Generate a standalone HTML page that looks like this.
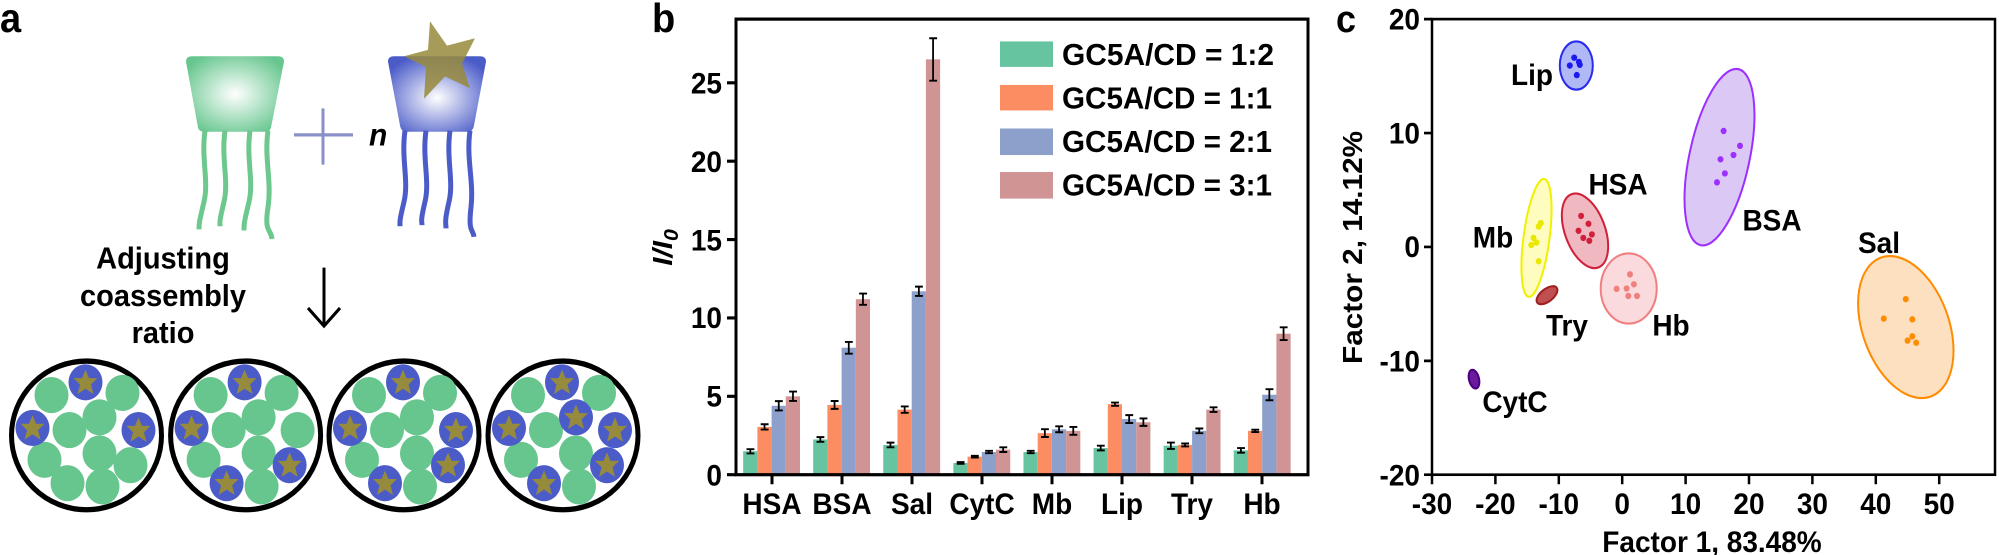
<!DOCTYPE html>
<html><head><meta charset="utf-8"><style>
html,body{margin:0;padding:0;background:#fff}
svg{display:block}
text{font-family:"Liberation Sans",Arial,sans-serif;font-weight:bold;fill:#000}
</style></head><body>
<svg width="1999" height="555" viewBox="0 0 1999 522.6" preserveAspectRatio="none" xmlns="http://www.w3.org/2000/svg">
<defs>
<radialGradient id="gg" cx="50%" cy="50%" r="60%"><stop offset="0" stop-color="#fff"/><stop offset="1" stop-color="#66c68e"/></radialGradient>
<radialGradient id="bg" cx="50%" cy="55%" r="60%"><stop offset="0" stop-color="#fff"/><stop offset="1" stop-color="#4b5cc8"/></radialGradient>
<g id="bs"><circle r="17" fill="#4b5cc8"/><polygon points="0,-12 3.5,-4 12,-4 5.5,2 8,11 0,6 -8,11 -5.5,2 -12,-4 -3.5,-4" fill="#968a3c"/></g>
<circle id="gc" r="17" fill="#66c68e"/>
</defs>

<!-- Panel a -->
<text x="0" y="30" font-size="38">a</text>
<path d="M186,58 Q186,53 192,53 L278,53 Q284,53 284,58 L271,120 Q270,124 265,124 L204,124 Q199,124 198,120 Z" fill="url(#gg)"/>
<g stroke="#6cc88d" stroke-width="5" fill="none">
<path d="M205,123 C201,150 209,170 204,190 S199,210 199,216"/>
<path d="M225,123 C221,150 229,170 224,190 S220,208 220,213"/>
<path d="M250,123 C246,150 254,170 249,190 S244,210 244,217"/>
<path d="M268,123 C264,150 272,170 268,195 S271,215 272,225"/>
</g>
<path d="M294,127 H353 M323,102 V155" stroke="#8a90c8" stroke-width="3"/>
<text x="369" y="137" font-size="30" font-style="italic">n</text>
<path d="M388,58 Q388,53 394,53 L480,53 Q486,53 486,58 L474,118 Q473,124 468,124 L406,124 Q401,124 400,118 Z" fill="url(#bg)"/>
<polygon points="430,20 447,43 475,36 462,60 470,83 445,72 424,93 426,63 404,53 428,47" fill="#968a3c" opacity="0.85"/>
<g stroke="#4b5cc8" stroke-width="5" fill="none">
<path d="M405,123 C401,150 409,170 404,190 S400,208 400,213"/>
<path d="M426,123 C422,150 430,170 425,190 S422,208 422,212"/>
<path d="M450,123 C446,150 454,170 449,190 S446,210 446,215"/>
<path d="M470,123 C466,150 474,170 471,195 S473,215 474,223"/>
</g>
<text x="163" y="253" font-size="29" text-anchor="middle">Adjusting</text>
<text x="163" y="288" font-size="29" text-anchor="middle">coassembly</text>
<text x="163" y="323" font-size="29" text-anchor="middle">ratio</text>
<path d="M324,252 V306 M308,290 L324,307 L340,290" stroke="#000" stroke-width="3" fill="none"/>

<g transform="translate(86.5,410)">
<ellipse rx="75" ry="70" fill="#fff" stroke="#000" stroke-width="5"/>
<use href="#gc" x="-35" y="-38"/><use href="#gc" x="36" y="-40"/><use href="#gc" x="-17" y="-5"/><use href="#gc" x="13" y="-17"/><use href="#gc" x="13" y="17"/><use href="#gc" x="-42" y="23"/><use href="#gc" x="44" y="28"/><use href="#gc" x="-19" y="45"/><use href="#gc" x="16" y="48"/>
<use href="#bs" x="-1" y="-50"/><use href="#bs" x="-54" y="-7"/><use href="#bs" x="52" y="-5"/>
</g>
<g transform="translate(245.6,410)">
<ellipse rx="75" ry="70" fill="#fff" stroke="#000" stroke-width="5"/>
<use href="#gc" x="-35" y="-38"/><use href="#gc" x="36" y="-40"/><use href="#gc" x="-17" y="-5"/><use href="#gc" x="13" y="-17"/><use href="#gc" x="13" y="17"/><use href="#gc" x="-42" y="23"/><use href="#gc" x="52" y="-5"/><use href="#gc" x="16" y="48"/>
<use href="#bs" x="-1" y="-50"/><use href="#bs" x="-54" y="-7"/><use href="#bs" x="44" y="28"/><use href="#bs" x="-19" y="45"/>
</g>
<g transform="translate(404,410)">
<ellipse rx="75" ry="70" fill="#fff" stroke="#000" stroke-width="5"/>
<use href="#gc" x="-35" y="-38"/><use href="#gc" x="36" y="-40"/><use href="#gc" x="-17" y="-5"/><use href="#gc" x="13" y="-17"/><use href="#gc" x="13" y="17"/><use href="#gc" x="-42" y="23"/><use href="#gc" x="16" y="48"/>
<use href="#bs" x="-1" y="-50"/><use href="#bs" x="-54" y="-7"/><use href="#bs" x="52" y="-5"/><use href="#bs" x="44" y="28"/><use href="#bs" x="-19" y="45"/>
</g>
<g transform="translate(563,410)">
<ellipse rx="75" ry="70" fill="#fff" stroke="#000" stroke-width="5"/>
<use href="#gc" x="-35" y="-38"/><use href="#gc" x="36" y="-40"/><use href="#gc" x="-17" y="-5"/><use href="#gc" x="13" y="17"/><use href="#gc" x="-42" y="23"/><use href="#gc" x="16" y="48"/>
<use href="#bs" x="-1" y="-50"/><use href="#bs" x="-54" y="-7"/><use href="#bs" x="13" y="-17"/><use href="#bs" x="52" y="-5"/><use href="#bs" x="44" y="28"/><use href="#bs" x="-19" y="45"/>
</g>

<!-- Panel b -->
<text x="652" y="30" font-size="38">b</text>
<g transform="matrix(0.9804,0,0,-1,15.12,447)">
<g fill="#66c5a0">
<rect x="742.6" y="0" width="14.5" height="22.1"/><rect x="814" y="0" width="14.5" height="33.2"/><rect x="885.5" y="0" width="14.5" height="28"/><rect x="957" y="0" width="14.5" height="11.1"/><rect x="1028.5" y="0" width="14.5" height="21.4"/><rect x="1100" y="0" width="14.5" height="25.1"/><rect x="1171.5" y="0" width="14.5" height="27.3"/><rect x="1243" y="0" width="14.5" height="22.9"/>
</g>
<g fill="#fc8d62">
<rect x="757.1" y="0" width="14.5" height="45"/><rect x="828.5" y="0" width="14.5" height="65.7"/><rect x="900" y="0" width="14.5" height="61.3"/><rect x="971.5" y="0" width="14.5" height="17"/><rect x="1043" y="0" width="14.5" height="39.1"/><rect x="1114.5" y="0" width="14.5" height="66.4"/><rect x="1186" y="0" width="14.5" height="28"/><rect x="1257.5" y="0" width="14.5" height="41.3"/>
</g>
<g fill="#8da0cb">
<rect x="771.6" y="0" width="14.5" height="64.9"/><rect x="843" y="0" width="14.5" height="119.6"/><rect x="914.5" y="0" width="14.5" height="172.7"/><rect x="986" y="0" width="14.5" height="21.4"/><rect x="1057.5" y="0" width="14.5" height="42.8"/><rect x="1129" y="0" width="14.5" height="52.4"/><rect x="1200.5" y="0" width="14.5" height="41.3"/><rect x="1272" y="0" width="14.5" height="75.3"/>
</g>
<g fill="#d09494">
<rect x="786.1" y="0" width="14.5" height="73.8"/><rect x="857.5" y="0" width="14.5" height="165.3"/><rect x="929" y="0" width="14.5" height="391.1"/><rect x="1000.5" y="0" width="14.5" height="23.6"/><rect x="1072" y="0" width="14.5" height="41.3"/><rect x="1143.5" y="0" width="14.5" height="49.4"/><rect x="1215" y="0" width="14.5" height="61.3"/><rect x="1286.5" y="0" width="14.5" height="132.8"/>
</g>
<path stroke="#000" stroke-width="1.8" fill="none" d="
M749.9,20 v4 M746,20 h8 M746,24 h8
M764.4,42.5 v5 M760.5,42.5 h8 M760.5,47.5 h8
M778.9,60.5 v8.8 M775,60.5 h8 M775,69.3 h8
M793.4,69.5 v8.8 M789.5,69.5 h8 M789.5,78.3 h8
M821.3,31 v4.4 M817.4,31 h8 M817.4,35.4 h8
M835.8,62 v7.4 M831.9,62 h8 M831.9,69.4 h8
M850.3,114 v11 M846.4,114 h8 M846.4,125 h8
M864.8,160 v10.6 M860.9,160 h8 M860.9,170.6 h8
M892.8,25.8 v4.4 M888.9,25.8 h8 M888.9,30.2 h8
M907.3,58.3 v6 M903.4,58.3 h8 M903.4,64.3 h8
M921.8,168.3 v8.8 M917.9,168.3 h8 M917.9,177.1 h8
M936.3,371 v40 M932.4,371 h8 M932.4,411 h8
M964.3,10.3 v1.6 M960.4,10.3 h8 M960.4,11.9 h8
M978.8,16.2 v1.6 M974.9,16.2 h8 M974.9,17.8 h8
M993.3,20.3 v2.2 M989.4,20.3 h8 M989.4,22.5 h8
M1007.8,21.4 v4.4 M1003.9,21.4 h8 M1003.9,25.8 h8
M1035.8,20.3 v2.2 M1031.9,20.3 h8 M1031.9,22.5 h8
M1050.3,35.5 v7.4 M1046.4,35.5 h8 M1046.4,42.9 h8
M1064.8,40 v5.6 M1060.9,40 h8 M1060.9,45.6 h8
M1079.3,37.6 v7.4 M1075.4,37.6 h8 M1075.4,45 h8
M1107.3,22.9 v4.4 M1103.4,22.9 h8 M1103.4,27.3 h8
M1121.8,64.9 v3 M1117.9,64.9 h8 M1117.9,67.9 h8
M1136.3,48.7 v7.4 M1132.4,48.7 h8 M1132.4,56.1 h8
M1150.8,46 v7 M1146.9,46 h8 M1146.9,53 h8
M1178.8,24.3 v6 M1174.9,24.3 h8 M1174.9,30.3 h8
M1193.3,26.6 v2.8 M1189.4,26.6 h8 M1189.4,29.4 h8
M1207.8,39.1 v4.4 M1203.9,39.1 h8 M1203.9,43.5 h8
M1222.3,59.1 v4.4 M1218.4,59.1 h8 M1218.4,63.5 h8
M1250.3,20.7 v4.4 M1246.4,20.7 h8 M1246.4,25.1 h8
M1264.8,40.2 v2.2 M1260.9,40.2 h8 M1260.9,42.4 h8
M1279.3,70.1 v10.4 M1275.4,70.1 h8 M1275.4,80.5 h8
M1293.8,126.8 v12 M1289.9,126.8 h8 M1289.9,138.8 h8"/>
</g>
<rect x="736" y="18" width="572" height="429" fill="none" stroke="#000" stroke-width="3"/>
<path stroke="#000" stroke-width="3" d="M727,447 H736 M727,373.2 H736 M727,299.4 H736 M727,225.6 H736 M727,151.8 H736 M727,78 H736 M772,447 v9 M842,447 v9 M912,447 v9 M982,447 v9 M1052,447 v9 M1122,447 v9 M1192,447 v9 M1262,447 v9"/>
<g font-size="28" text-anchor="end">
<text x="722" y="457">0</text><text x="722" y="383">5</text><text x="722" y="309">10</text><text x="722" y="236">15</text><text x="722" y="162">20</text><text x="722" y="88">25</text>
</g>
<text transform="translate(672,233) rotate(-90)" font-size="28" font-style="italic" text-anchor="middle">I/I<tspan font-size="20" dy="6">0</tspan></text>
<g font-size="28" text-anchor="middle">
<text x="772" y="484">HSA</text><text x="842" y="484">BSA</text><text x="912" y="484">Sal</text><text x="982" y="484">CytC</text><text x="1052" y="484">Mb</text><text x="1122" y="484">Lip</text><text x="1192" y="484">Try</text><text x="1262" y="484">Hb</text>
</g>
<rect x="1000" y="39" width="53" height="24" fill="#66c5a0"/>
<rect x="1000" y="80" width="53" height="24" fill="#fc8d62"/>
<rect x="1000" y="121" width="53" height="25" fill="#8da0cb"/>
<rect x="1000" y="162" width="53" height="25" fill="#d09494"/>
<g font-size="29">
<text x="1062" y="61" textLength="212" lengthAdjust="spacingAndGlyphs">GC5A/CD = 1:2</text>
<text x="1062" y="102" textLength="210" lengthAdjust="spacingAndGlyphs">GC5A/CD = 1:1</text>
<text x="1062" y="143" textLength="210" lengthAdjust="spacingAndGlyphs">GC5A/CD = 2:1</text>
<text x="1062" y="184" textLength="210" lengthAdjust="spacingAndGlyphs">GC5A/CD = 3:1</text>
</g>

<!-- Panel c -->
<text x="1336" y="30" font-size="36">c</text>
<ellipse cx="1576.3" cy="61.7" rx="16.5" ry="22.7" fill="#b0b8f5" stroke="#2b2bf0" stroke-width="2"/>
<ellipse transform="translate(1719.5,148) rotate(13)" rx="30" ry="85" fill="#dcc8f5" stroke="#9b30ff" stroke-width="2"/>
<ellipse transform="translate(1585,217.3) rotate(-22)" rx="20" ry="37" fill="#f0b8c0" stroke="#d0203a" stroke-width="2"/>
<ellipse transform="translate(1536.5,224) rotate(8)" rx="13" ry="56" fill="#fffcc0" stroke="#f0f000" stroke-width="2"/>
<ellipse transform="translate(1547,278) rotate(-35)" rx="12" ry="6" fill="#c05050" stroke="#a02020" stroke-width="2"/>
<ellipse cx="1628.7" cy="271.7" rx="28" ry="33" fill="#fadadd" stroke="#f08080" stroke-width="2"/>
<ellipse transform="translate(1905.8,308) rotate(-22)" rx="43" ry="70" fill="#fde0c0" stroke="#ff8c00" stroke-width="2"/>
<ellipse transform="translate(1474,357) rotate(-15)" rx="5" ry="9" fill="#6a1a9a" stroke="#4b0082" stroke-width="2"/>
<g fill="#1a1af0"><circle cx="1569.8" cy="61.7" r="3"/><circle cx="1574.2" cy="54.3" r="3"/><circle cx="1578.9" cy="58.3" r="3"/><circle cx="1579.8" cy="61" r="3"/><circle cx="1576.8" cy="70.7" r="3"/></g>
<g fill="#9b30ff"><circle cx="1723.6" cy="123.3" r="3"/><circle cx="1740" cy="137.3" r="3"/><circle cx="1733.5" cy="146" r="3"/><circle cx="1720.5" cy="150" r="3"/><circle cx="1724.9" cy="163.3" r="3"/><circle cx="1717" cy="171.7" r="3"/></g>
<g fill="#d0203a"><circle cx="1581.1" cy="203.3" r="3"/><circle cx="1588.5" cy="210.7" r="3"/><circle cx="1578.5" cy="217.3" r="3"/><circle cx="1591.9" cy="220.7" r="3"/><circle cx="1583.3" cy="224" r="3"/><circle cx="1589.3" cy="226.7" r="3"/></g>
<g fill="#e8e800"><circle cx="1540.8" cy="210" r="3"/><circle cx="1538.7" cy="213.3" r="3"/><circle cx="1533.5" cy="224" r="3"/><circle cx="1536.5" cy="228.3" r="3"/><circle cx="1531.3" cy="230.7" r="3"/><circle cx="1538.7" cy="246" r="3"/></g>
<g fill="#f08080"><circle cx="1630" cy="258.3" r="3"/><circle cx="1633.9" cy="267.7" r="3"/><circle cx="1616.6" cy="272" r="3"/><circle cx="1626.6" cy="271.7" r="3"/><circle cx="1628.3" cy="278.7" r="3"/><circle cx="1637" cy="278.7" r="3"/></g>
<g fill="#ff8c00"><circle cx="1905.8" cy="281.7" r="3"/><circle cx="1883.8" cy="300" r="3"/><circle cx="1912.3" cy="300.7" r="3"/><circle cx="1912.3" cy="316.7" r="3"/><circle cx="1907.6" cy="320.7" r="3"/><circle cx="1916.2" cy="322.7" r="3"/></g>
<rect x="1432" y="18" width="563" height="429" fill="none" stroke="#000" stroke-width="2.5"/>
<path stroke="#000" stroke-width="2.5" d="M1424,18 H1432 M1424,125.3 H1432 M1424,232.5 H1432 M1424,339.8 H1432 M1424,447 H1432 M1432,447 v9 M1495.4,447 v9 M1558.8,447 v9 M1622.2,447 v9 M1685.6,447 v9 M1749,447 v9 M1812.4,447 v9 M1875.8,447 v9 M1939.2,447 v9"/>
<g font-size="28" text-anchor="end">
<text x="1420" y="28">20</text><text x="1420" y="135">10</text><text x="1420" y="242">0</text><text x="1420" y="350">-10</text><text x="1420" y="457">-20</text>
</g>
<g font-size="28" text-anchor="middle">
<text x="1432" y="484">-30</text><text x="1495.4" y="484">-20</text><text x="1558.8" y="484">-10</text><text x="1622.2" y="484">0</text><text x="1685.6" y="484">10</text><text x="1749" y="484">20</text><text x="1812.4" y="484">30</text><text x="1875.8" y="484">40</text><text x="1939.2" y="484">50</text>
</g>
<text x="1712" y="520" font-size="28" text-anchor="middle">Factor 1, 83.48%</text>
<text transform="translate(1362,233) rotate(-90)" font-size="28" text-anchor="middle">Factor 2, 14.12%</text>
<g font-size="28" text-anchor="middle">
<text x="1532" y="80">Lip</text><text x="1618" y="183">HSA</text><text x="1772" y="217">BSA</text><text x="1879" y="238">Sal</text><text x="1493" y="233">Mb</text><text x="1567" y="316">Try</text><text x="1671" y="316">Hb</text><text x="1515" y="388">CytC</text>
</g>
</svg>
</body></html>
